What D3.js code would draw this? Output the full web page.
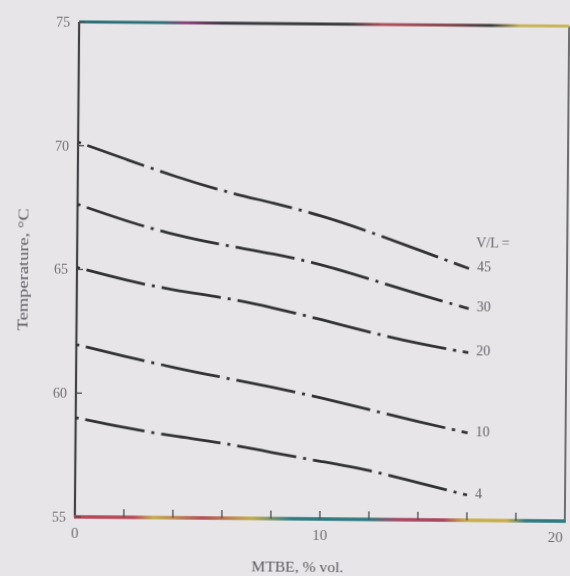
<!DOCTYPE html>
<meta charset="utf-8">
<script src="https://d3js.org/d3.v7.min.js"></script>
<style>
    body { margin: 0; background: #e7e5e8; }
    text { font-family: "Liberation Serif", "DejaVu Serif", serif; }
</style>
<svg id="chart" width="570" height="576"></svg>
<script>

    // MTBE content, % vol.
    var mtbe = [0, 2, 4, 6, 8, 10, 12, 14, 16];

    // Temperature, deg C, one array per V/L ratio
    var vl45 = [70.14, 69.45, 68.77, 68.19, 67.75, 67.25, 66.60, 65.88, 65.17];
    var vl30 = [67.63, 66.96, 66.41, 66.02, 65.71, 65.28, 64.70, 64.10, 63.55];
    var vl20 = [65.08, 64.57, 64.18, 63.92, 63.52, 63.06, 62.55, 62.11, 61.77];
    var vl10 = [61.96, 61.50, 61.06, 60.68, 60.32, 59.90, 59.43, 58.96, 58.53];
    var vl4  = [59.01, 58.62, 58.29, 58.05, 57.67, 57.33, 57.00, 56.49, 56.02];

    var seriesLabels = ["45", "30", "20", "10", "4"];
    var seriesValues = [vl45, vl30, vl20, vl10, vl4];

    var xTickLabels = [0, 10, 20];
    var xMinorTicks = [2, 4, 6, 8, 10, 12, 14, 16, 18];
    var yTickLabels = [55, 60, 65, 70, 75];

    var svg = d3.select("#chart");

    // scan looks slightly blurred
    var defs = svg.append("defs");
    defs.append("filter").attr("id", "soft")
        .append("feGaussianBlur").attr("stdDeviation", 0.55);

    // colour fringes of the scanned top and bottom frame lines
    function fringe(id, stops) {
        var g = defs.append("linearGradient").attr("id", id)
            .attr("gradientUnits", "userSpaceOnUse")
            .attr("x1", 77).attr("x2", 567).attr("y1", 0).attr("y2", 0);
        stops.forEach(function (s) {
            g.append("stop").attr("offset", s[0]).attr("stop-color", s[1]);
        });
    }
    fringe("topLine", [[0, "#2f6f78"], [0.17, "#2f6f78"], [0.22, "#8a3f78"], [0.3, "#3a3a40"],
        [0.55, "#3a3a3a"], [0.62, "#b0505e"], [0.75, "#8a4a50"], [0.84, "#3a3a3a"], [0.9, "#c8b45a"], [1, "#c8b45a"]]);
    fringe("bottomLine", [[0, "#b84858"], [0.12, "#b84858"], [0.16, "#c4ac48"], [0.26, "#b45058"],
        [0.36, "#c0aa4a"], [0.44, "#2f7a80"], [0.6, "#2f7a80"], [0.66, "#a84660"], [0.75, "#a84660"],
        [0.8, "#c8ae48"], [0.88, "#c8ae48"], [0.92, "#2f7a80"], [1, "#2f7a80"]]);

    var x = d3.scaleLinear().domain([0, 20]).range([77, 567]);
    var y = d3.scaleLinear().domain([55, 75]).range([519, 24]);

    // the page was scanned a little crooked
    var g = svg.append("g")
        .attr("filter", "url(#soft)")
        .attr("transform", "rotate(0.5,322,271)");

    // frame
    g.append("line").attr("x1", x(20)).attr("x2", x(20)).attr("y1", y(75)).attr("y2", y(55))
        .attr("stroke", "#505052").attr("stroke-width", 1.6);
    g.append("line").attr("x1", x(0)).attr("x2", x(0)).attr("y1", y(75)).attr("y2", y(55))
        .attr("stroke", "#414144").attr("stroke-width", 2.2);
    g.append("line").attr("x1", x(0)).attr("x2", x(20)).attr("y1", y(75)).attr("y2", y(75))
        .attr("stroke", "url(#topLine)").attr("stroke-width", 3);
    g.append("line").attr("x1", x(0) - 1).attr("x2", x(20) + 1).attr("y1", y(55)).attr("y2", y(55))
        .attr("stroke", "url(#bottomLine)").attr("stroke-width", 3.4);

    // inward ticks
    g.append("g").selectAll("line")
        .data(xMinorTicks)
        .enter()
        .append("line")
        .attr("x1", function (d) { return x(d) })
        .attr("x2", function (d) { return x(d) })
        .attr("y1", y(55))
        .attr("y2", y(55) - 8)
        .attr("stroke", "#4a4a4c")
        .attr("stroke-width", 1.3);

    g.append("g").selectAll("line")
        .data(yTickLabels)
        .enter()
        .append("line")
        .attr("x1", x(0))
        .attr("x2", x(0) + 6)
        .attr("y1", function (d) { return y(d) })
        .attr("y2", function (d) { return y(d) })
        .attr("stroke", "#4a4a4c")
        .attr("stroke-width", 1.3);

    // tick labels
    g.append("g").selectAll("text")
        .data(yTickLabels)
        .enter()
        .append("text")
        .attr("x", x(0) - 9)
        .attr("y", function (d) { return y(d) })
        .attr("dy", "0.35em")
        .attr("text-anchor", "end")
        .attr("font-size", 14)
        .attr("fill", "#6e6c70")
        .text(function (d) { return d });

    // last label sits against the page edge, so keep it inside
    g.append("g").selectAll("text")
        .data(xTickLabels)
        .enter()
        .append("text")
        .attr("x", function (d) { return d === 20 ? x(d) - 2 : x(d) })
        .attr("y", y(55) + 21)
        .attr("text-anchor", function (d) { return d === 20 ? "end" : "middle" })
        .attr("font-size", 15)
        .attr("fill", "#6e6c70")
        .text(function (d) { return d });

    // axis titles
    g.append("text")
        .attr("x", 300)
        .attr("y", 572)
        .attr("text-anchor", "middle")
        .attr("font-size", 15)
        .attr("textLength", 92)
        .attr("lengthAdjust", "spacingAndGlyphs")
        .attr("fill", "#5c5a60")
        .text("MTBE, % vol.");

    g.append("text")
        .attr("transform", "translate(28,272) rotate(-90)")
        .attr("text-anchor", "middle")
        .attr("font-size", 15)
        .attr("textLength", 122)
        .attr("lengthAdjust", "spacingAndGlyphs")
        .attr("fill", "#5c5a60")
        .text("Temperature, °C");

    // dash-dot curves
    var line = d3.line()
        .x(function (d, i) { return x(mtbe[i]) })
        .y(function (d) { return y(d) })
        .curve(d3.curveBasis);

    g.append("g").selectAll("path")
        .data(seriesValues)
        .enter()
        .append("path")
        .attr("d", line)
        .attr("fill", "none")
        .attr("stroke", "#333335")
        .attr("stroke-width", 2.8)
        .attr("stroke-dasharray", "3,7,60,7");

    // curve labels
    var last = mtbe.length - 1;
    g.append("g").selectAll("text")
        .data(seriesValues)
        .enter()
        .append("text")
        .attr("x", x(mtbe[last]) + 8)
        .attr("y", function (d) { return y(d[last]) - 2 })
        .attr("dy", "0.35em")
        .attr("font-size", 14)
        .attr("fill", "#66646a")
        .text(function (d, i) { return seriesLabels[i] });

    g.append("text")
        .attr("x", x(mtbe[last]) + 7)
        .attr("y", y(vl45[last]) - 26)
        .attr("dy", "0.35em")
        .attr("font-size", 14)
        .attr("fill", "#66646a")
        .text("V/L =");

</script>
